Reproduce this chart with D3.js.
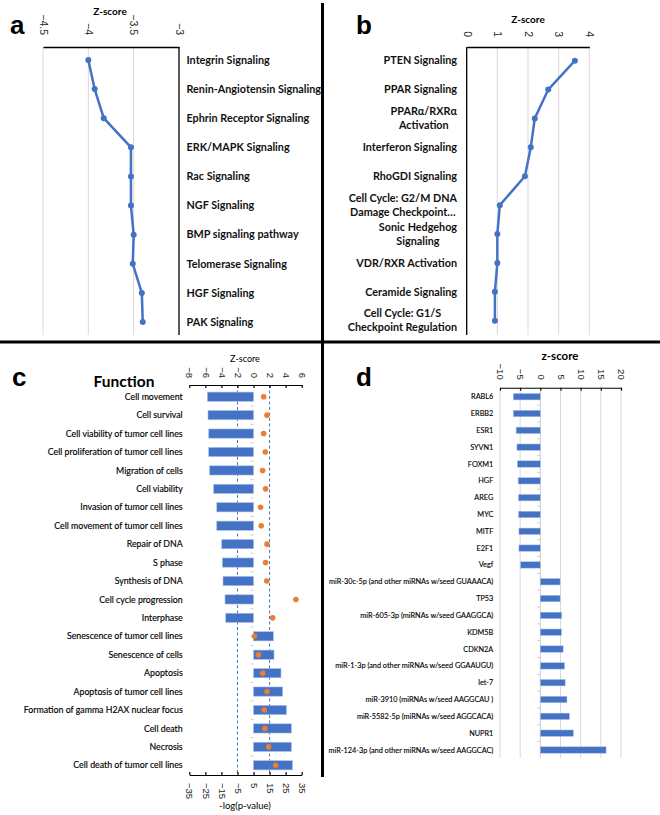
<!DOCTYPE html>
<html><head><meta charset="utf-8">
<script src="https://cdn.jsdelivr.net/npm/d3@7"></script>
<style>
body{margin:0;background:#fff;}
svg{display:block;font-family:Lato,"Open Sans",sans-serif;}
</style></head>
<body>
<svg id="chart" width="660" height="815"></svg>
<script>
// ---------- DATA ----------
const catsA = ["Integrin Signaling","Renin-Angiotensin Signaling","Ephrin Receptor Signaling","ERK/MAPK Signaling","Rac Signaling","NGF Signaling","BMP signaling pathway","Telomerase Signaling","HGF Signaling","PAK Signaling"];
const zA = [-4.0,-3.93,-3.83,-3.53,-3.53,-3.53,-3.50,-3.51,-3.41,-3.40];
const ticksA = [-4.5,-4,-3.5,-3];

const catsB = ["PTEN Signaling","PPAR Signaling","PPARα/RXRα|Activation","Interferon Signaling","RhoGDI Signaling","Cell Cycle: G2/M DNA|Damage Checkpoint…","Sonic Hedgehog|Signaling","VDR/RXR Activation","Ceramide Signaling","Cell Cycle: G1/S|Checkpoint Regulation"];
const zB = [3.53,2.66,2.22,2.09,1.90,1.08,1.0,1.0,0.92,0.92];
const ticksB = [0,1,2,3,4];

const catsC = ["Cell movement","Cell survival","Cell viability of tumor cell lines","Cell proliferation of tumor cell lines","Migration of cells","Cell viability","Invasion of tumor cell lines","Cell movement of tumor cell lines","Repair of DNA","S phase","Synthesis of DNA","Cell cycle progression","Interphase","Senescence of tumor cell lines","Senescence of cells","Apoptosis","Apoptosis of tumor cell lines","Formation of gamma H2AX nuclear focus","Cell death","Necrosis","Cell death of tumor cell lines"];
const zC = [-5.75,-5.67,-5.58,-5.58,-5.46,-4.96,-4.58,-4.58,-3.96,-3.88,-3.80,-3.55,-3.46,2.47,2.55,3.42,3.63,4.09,4.71,4.71,4.84];
const pC = [11.3,13.4,11.3,12.3,10.7,12.5,9.4,9.8,13.4,12.5,13.2,31.4,16.9,5.5,8.0,10.7,13.4,11.7,12.1,14.4,18.8];
const ticksCz = [-8,-6,-4,-2,0,2,4,6];
const ticksCp = [-35,-25,-15,-5,5,15,25,35];
const thresholdsC = [-2,2];

const catsD = ["RABL6","ERBB2","ESR1","SYVN1","FOXM1","HGF","AREG","MYC","MITF","E2F1","Vegf","miR-30c-5p (and other miRNAs w/seed GUAAACA)","TP53","miR-605-3p (miRNAs w/seed GAAGGCA)","KDM5B","CDKN2A","miR-1-3p (and other miRNAs w/seed  GGAAUGU)","let-7","miR-3910 (miRNAs w/seed AAGGCAU )","miR-5582-5p (miRNAs w/seed AGGCACA)","NUPR1","miR-124-3p (and other miRNAs w/seed AAGGCAC)"];
const zD = [-6.7,-6.7,-6.0,-5.8,-5.7,-5.5,-5.4,-5.4,-5.3,-5.3,-4.9,4.9,4.9,5.3,5.25,5.65,6.0,6.15,6.6,7.2,8.2,16.3];
const ticksD = [-10,-5,0,5,10,15,20];

// ---------- STYLE ----------
const BLUE = "#4472C4", ORANGE = "#ED7D31", GRID = "#d9d9d9";
const svg = d3.select("#chart");
svg.append("rect").attr("width",660).attr("height",815).attr("fill","#fff");

// divider lines
svg.append("line").attr("x1",0).attr("x2",660).attr("y1",342).attr("y2",342).attr("stroke","#000").attr("stroke-width",3);
svg.append("line").attr("x1",322.5).attr("x2",322.5).attr("y1",3).attr("y2",342).attr("stroke","#000").attr("stroke-width",3);
svg.append("line").attr("x1",322.5).attr("x2",322.5).attr("y1",342).attr("y2",777).attr("stroke","#000").attr("stroke-width",3);

// panel letters
const letters = [["a",10,34],["b",356,34],["c",12,386],["d",356,386]];
svg.selectAll("text.letter").data(letters).join("text").attr("class","letter")
  .attr("x",d=>d[1]).attr("y",d=>d[2]).text(d=>d[0])
  .attr("font-family","Arial,Liberation Sans,sans-serif").attr("font-weight","bold").attr("font-size",26);

const fmt = d3.format("");

// ---------- PANEL A ----------
{
  const x = d3.scaleLinear([-4.5,-3],[43,179]);
  const y = d3.scalePoint(catsA,[60,322]);
  const top = 47, bot = 335;
  const g = svg.append("g");
  g.selectAll("line.grid").data(ticksA.slice(0,-1)).join("line")
    .attr("x1",d=>x(d)).attr("x2",d=>x(d)).attr("y1",top).attr("y2",bot).attr("stroke",GRID);
  g.append("line").attr("x1",x(-3)).attr("x2",x(-3)).attr("y1",top).attr("y2",bot).attr("stroke","#000").attr("stroke-width",1.3);
  const ax = g.append("g").attr("transform",`translate(0,${top})`)
    .call(d3.axisTop(x).tickValues(ticksA).tickSize(0).tickPadding(0).tickFormat(fmt));
  ax.select(".domain").attr("stroke","#000").attr("stroke-width",1.3);
  ax.selectAll(".tick text").attr("font-size",10.5).attr("fill","#222")
    .attr("transform","rotate(90)").attr("text-anchor","end").attr("x",-12).attr("y",0).attr("dy","0.35em");
  g.append("text").attr("x",110).attr("y",15).attr("text-anchor","middle").attr("font-size",10).attr("font-weight","bold").text("Z-score");
  const line = d3.line().x(d=>x(d)).y((d,i)=>y(catsA[i]));
  g.append("path").datum(zA).attr("d",line).attr("fill","none").attr("stroke",BLUE).attr("stroke-width",2.5);
  g.selectAll("circle").data(zA).join("circle").attr("cx",d=>x(d)).attr("cy",(d,i)=>y(catsA[i])).attr("r",3).attr("fill",BLUE);
  g.selectAll("text.lab").data(catsA).join("text").attr("class","lab")
    .attr("x",186.5).attr("y",d=>y(d)).attr("dy","0.35em").attr("font-size",10.8).attr("font-weight","bold").attr("fill","#111").text(d=>d);
}

// ---------- PANEL B ----------
{
  const x = d3.scaleLinear([0,4],[466.7,589.3]);
  const y = d3.scalePoint(catsB,[60.7,320.7]);
  const top = 47, bot = 335;
  const g = svg.append("g");
  g.selectAll("line.grid").data(ticksB.slice(1)).join("line")
    .attr("x1",d=>x(d)).attr("x2",d=>x(d)).attr("y1",top).attr("y2",bot).attr("stroke",GRID);
  g.append("line").attr("x1",x(0)).attr("x2",x(0)).attr("y1",top).attr("y2",bot).attr("stroke","#000").attr("stroke-width",1.3);
  const ax = g.append("g").attr("transform",`translate(0,${top})`)
    .call(d3.axisTop(x).tickValues(ticksB).tickSize(0).tickPadding(0).tickFormat(fmt));
  ax.select(".domain").attr("stroke","#000").attr("stroke-width",1.3);
  ax.selectAll(".tick text").attr("font-size",10.5).attr("fill","#222")
    .attr("transform","rotate(90)").attr("text-anchor","end").attr("x",-10).attr("y",0).attr("dy","0.35em");
  g.append("text").attr("x",528).attr("y",23).attr("text-anchor","middle").attr("font-size",10).attr("font-weight","bold").text("Z-score");
  const line = d3.line().x(d=>x(d)).y((d,i)=>y(catsB[i]));
  g.append("path").datum(zB).attr("d",line).attr("fill","none").attr("stroke",BLUE).attr("stroke-width",2.5);
  g.selectAll("circle").data(zB).join("circle").attr("cx",d=>x(d)).attr("cy",(d,i)=>y(catsB[i])).attr("r",3).attr("fill",BLUE);
  const right = 457;
  catsB.forEach(c=>{
    const lines = c.split("|");
    const t = g.append("text").attr("font-size",10.8).attr("font-weight","bold").attr("fill","#111");
    if(lines.length===1){
      t.attr("x",right).attr("y",y(c)).attr("dy","0.35em").attr("text-anchor","end").text(c);
    } else {
      const sp = lines.map(l=>t.append("tspan").text(l));
      const w = d3.max(sp, s=>s.node().getComputedTextLength());
      const cx = right - w/2;
      sp.forEach((s,i)=>s.attr("x",cx).attr("y",y(c)+(i-0.5)*14).attr("dy","0.35em").attr("text-anchor","middle"));
    }
  });
}

// ---------- PANEL C ----------
{
  const zx = d3.scaleLinear([-8,6],[189.3,301.7]);
  const px = d3.scaleLinear([-35,35],[189.3,301.7]);
  const y = d3.scaleBand(catsC,[387.5,774.5]).paddingInner(0.5).paddingOuter(0.25);
  const topY = 385, botY = 775;
  const g = svg.append("g");
  g.selectAll("line.thr").data(thresholdsC).join("line")
    .attr("x1",d=>zx(d)).attr("x2",d=>zx(d)).attr("y1",topY).attr("y2",botY)
    .attr("stroke",BLUE).attr("stroke-width",1).attr("stroke-dasharray","3,2.5");
  g.selectAll("line.ct").data(catsC.slice(1)).join("line")
    .attr("x1",zx(0)-3).attr("x2",zx(0)).attr("y1",d=>y(d)-y.step()*0.25).attr("y2",d=>y(d)-y.step()*0.25)
    .attr("stroke","#ccc");
  g.selectAll("rect.bar").data(zC).join("rect").attr("class","bar")
    .attr("x",d=>zx(Math.min(0,d))).attr("width",d=>Math.abs(zx(d)-zx(0)))
    .attr("y",(d,i)=>y(catsC[i])).attr("height",y.bandwidth()).attr("fill",BLUE)
    .attr("stroke","#a9bde6").attr("stroke-width",0.6);
  g.selectAll("circle").data(pC).join("circle")
    .attr("cx",d=>px(d)).attr("cy",(d,i)=>y(catsC[i])+y.bandwidth()/2).attr("r",2.8).attr("fill",ORANGE);
  const ax = g.append("g").attr("transform",`translate(0,${topY})`)
    .call(d3.axisTop(zx).tickValues(ticksCz).tickSizeInner(-3).tickSizeOuter(0).tickPadding(0).tickFormat(fmt));
  ax.selectAll("path,line").attr("stroke","#000").attr("stroke-width",1.2);
  ax.selectAll(".tick text").attr("font-size",9.5).attr("fill","#222")
    .attr("transform","rotate(90)").attr("text-anchor","end").attr("x",-7).attr("y",0).attr("dy","0.35em");
  const bx = g.append("g").attr("transform",`translate(0,${botY})`)
    .call(d3.axisBottom(px).tickValues(ticksCp).tickSizeInner(-3).tickSizeOuter(0).tickPadding(0).tickFormat(fmt));
  bx.selectAll("path,line").attr("stroke","#000").attr("stroke-width",1.2);
  bx.selectAll(".tick text").attr("font-size",9.5).attr("fill","#222")
    .attr("transform","rotate(90)").attr("text-anchor","start").attr("x",8).attr("y",0).attr("dy","0.35em");
  g.append("text").attr("x",245).attr("y",362).attr("text-anchor","middle").attr("font-size",9).text("Z-score");
  g.append("text").attr("x",245).attr("y",809).attr("text-anchor","middle").attr("font-size",9.5).text("-log(p-value)");
  g.append("text").attr("x",124).attr("y",387).attr("text-anchor","middle").attr("font-size",15.5).attr("font-weight","bold").text("Function");
  g.selectAll("text.lab").data(catsC).join("text").attr("class","lab")
    .attr("x",182.7).attr("y",d=>y(d)+y.bandwidth()/2).attr("dy","0.35em").attr("text-anchor","end")
    .attr("font-size",8.8).attr("fill","#000").attr("stroke","#000").attr("stroke-width",0.15).text(d=>d);
}

// ---------- PANEL D ----------
{
  const x = d3.scaleLinear([-10,20],[500,621]);
  const y = d3.scaleBand(catsD,[388.3,758.4]).paddingInner(0.62).paddingOuter(0.31);
  const topY = 387.7, botY = 758;
  const g = svg.append("g");
  g.selectAll("line.grid").data(ticksD.filter(d=>d!==0)).join("line")
    .attr("x1",d=>x(d)).attr("x2",d=>x(d)).attr("y1",topY).attr("y2",botY).attr("stroke",GRID);
  g.append("line").attr("x1",x(0)).attr("x2",x(0)).attr("y1",topY).attr("y2",botY).attr("stroke","#cfcfcf");
  g.selectAll("line.ct").data(catsD.slice(1)).join("line")
    .attr("x1",x(0)-3).attr("x2",x(0)).attr("y1",d=>y(d)-y.step()*0.31).attr("y2",d=>y(d)-y.step()*0.31)
    .attr("stroke","#ccc");
  g.selectAll("rect.bar").data(zD).join("rect").attr("class","bar")
    .attr("x",d=>x(Math.min(0,d))).attr("width",d=>Math.abs(x(d)-x(0)))
    .attr("y",(d,i)=>y(catsD[i])).attr("height",y.bandwidth()).attr("fill",BLUE)
    .attr("stroke","#a9bde6").attr("stroke-width",0.5);
  const ax = g.append("g").attr("transform",`translate(0,${topY})`)
    .call(d3.axisTop(x).tickValues(ticksD).tickSizeInner(-3).tickSizeOuter(0).tickPadding(0).tickFormat(fmt));
  ax.selectAll("path,line").attr("stroke","#000").attr("stroke-width",1.1);
  ax.selectAll(".tick text").attr("font-size",9.5).attr("fill","#222")
    .attr("transform","rotate(90)").attr("text-anchor","end").attr("x",-8).attr("y",0).attr("dy","0.35em");
  g.append("text").attr("x",560).attr("y",360).attr("text-anchor","middle").attr("font-size",11.5).attr("font-weight","bold").text("z-score");
  g.selectAll("text.lab").data(catsD).join("text").attr("class","lab")
    .attr("x",493.3).attr("y",d=>y(d)+y.bandwidth()/2).attr("dy","0.35em").attr("text-anchor","end")
    .attr("font-size",7.3).attr("fill","#000").attr("stroke","#000").attr("stroke-width",0.12).text(d=>d);
}
</script>
</body></html>
